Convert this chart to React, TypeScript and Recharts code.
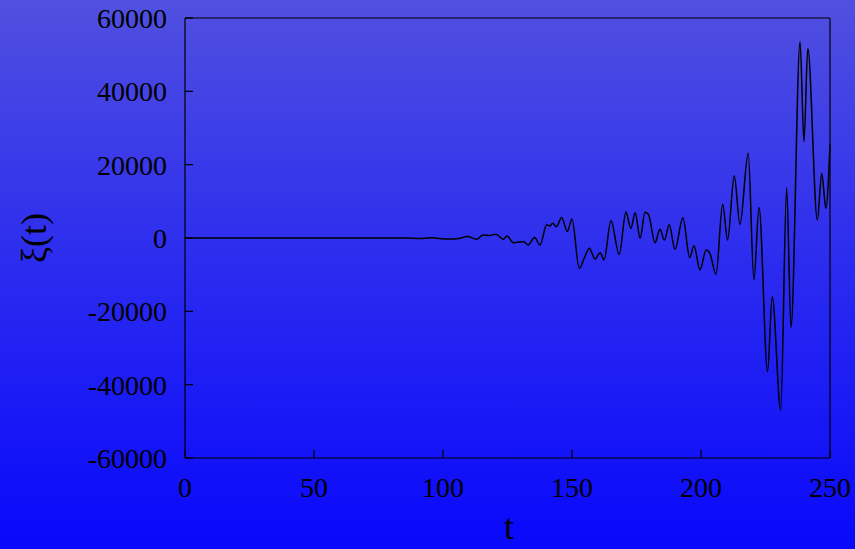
import { Line, LineChart, XAxis, YAxis } from "recharts";

// time samples (t) and the response xi(t) at each turning point of the curve
const times = [
  0, 40, 80, 85, 92, 96, 99, 103, 106, 109.5, 113, 115.5, 118, 120.5, 123.4, 124.8, 127.3,
  130, 131.5, 133, 135.5, 137.6, 140.2, 141.5, 142.5, 144, 146, 148.2, 150, 152.8, 155,
  156.7, 158.9, 160.9, 162.4, 165.1, 168.3, 170.9, 172.8, 174.5, 176.4, 178.3, 179.6, 182.2,
  184.1, 185.8, 187.7, 189.9, 193, 195.6, 197.3, 199.6, 202, 203.5, 205.8, 208.4, 210.3,
  212.9, 215.1, 218.3, 220.5, 222.5, 225.8, 227.6, 230.9, 233.2, 234.9, 238.4, 239.9,
  241.4, 245.1, 246.8, 248.4, 250,
];

const xi = [
  0, 0, 0, 0, -150, 100, -200, -300, -150, 400, -350, 800, 700, 1000, -350, 550, -1300,
  -1000, -1100, -1900, 150, -1900, 3600, 3300, 4000, 3100, 5600, 1800, 5200, -8300, -5100,
  -2800, -5700, -4000, -6000, 4700, -4500, 7100, 2600, 6900, -100, 7000, 6500, -1300,
  2400, -550, 3600, -3100, 5500, -5300, -2100, -8700, -3300, -4300, -9900, 9200, -550,
  17000, 3700, 23100, -11400, 8300, -36500, -16000, -46900, 13700, -24400, 53500, 26300,
  51700, 4900, 17600, 8100, 25500,
];

const xTicks = [0, 50, 100, 150, 200, 250];
const yTicks = [-60000, -40000, -20000, 0, 20000, 40000, 60000];

const data = times.map((t, i) => ({ t, v: xi[i] }));

const font = "'Liberation Serif', 'Times New Roman', serif";
const tickStyle = { fill: "#000", fontSize: 28, fontFamily: font };
const frame = { stroke: "#000", strokeWidth: 1.2 };

export default function App() {
  return (
    <div
      style={{
        position: "absolute",
        left: 0,
        top: 0,
        width: 855,
        height: 549,
        background: "linear-gradient(to bottom, #5050e0 0%, #2a2af0 50%, #0808fc 100%)",
        fontFamily: font,
      }}
    >
      <LineChart width={855} height={549} data={data} margin={{ top: 17, right: 24, bottom: 90, left: 184 }}>
        <XAxis
          dataKey="t"
          type="number"
          domain={[0, 250]}
          ticks={xTicks}
          height={1}
          tickSize={-8}
          tickMargin={27}
          tick={tickStyle}
          axisLine={frame}
          tickLine={frame}
        />
        <XAxis
          xAxisId="top"
          orientation="top"
          type="number"
          domain={[0, 250]}
          ticks={xTicks}
          height={1}
          tickSize={-8}
          tick={false}
          axisLine={frame}
          tickLine={frame}
        />
        <YAxis
          type="number"
          domain={[-60000, 60000]}
          ticks={yTicks}
          width={1}
          tickSize={-8}
          tickMargin={26}
          tick={tickStyle}
          axisLine={frame}
          tickLine={frame}
        />
        <YAxis
          yAxisId="right"
          orientation="right"
          type="number"
          domain={[-60000, 60000]}
          ticks={yTicks}
          width={1}
          tickSize={-8}
          tick={false}
          axisLine={frame}
          tickLine={frame}
        />
        <Line
          dataKey="v"
          type="monotone"
          stroke="#000"
          strokeWidth={1.5}
          dot={false}
          isAnimationActive={false}
        />
      </LineChart>
      <div
        style={{
          position: "absolute",
          left: 509,
          top: 527,
          transform: "translate(-50%, -50%)",
          fontSize: 36,
          lineHeight: 1,
          color: "#000",
        }}
      >
        t
      </div>
      <div
        style={{
          position: "absolute",
          left: 34,
          top: 238,
          transform: "translate(-50%, -50%) rotate(-90deg)",
          fontSize: 36,
          lineHeight: 1,
          color: "#000",
          whiteSpace: "nowrap",
        }}
      >
        ξ(t)
      </div>
    </div>
  );
}
